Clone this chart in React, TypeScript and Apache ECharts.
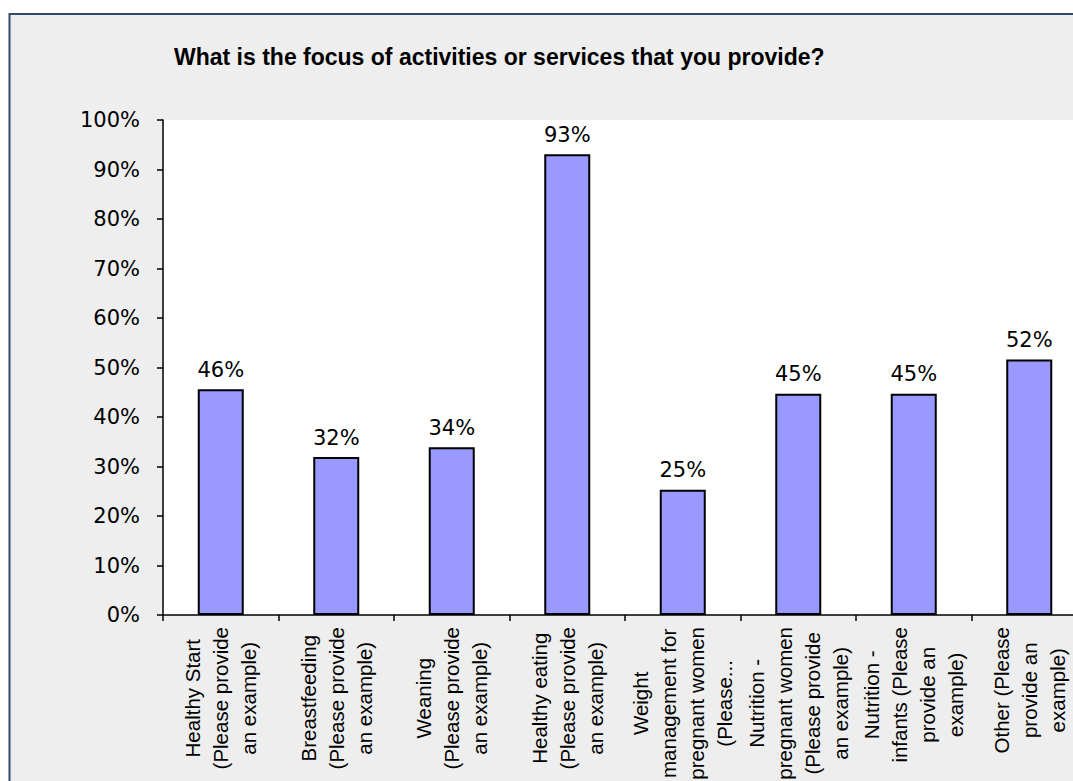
import { useEffect, useRef } from 'react';
import * as echarts from 'echarts';

const chartTitle = 'What is the focus of activities or services that you provide?';

const categories = [
  'Healthy Start\n(Please provide\nan example)',
  'Breastfeeding\n(Please provide\nan example)',
  'Weaning\n(Please provide\nan example)',
  'Healthy eating\n(Please provide\nan example)',
  'Weight\nmanagement for\npregnant women\n(Please...',
  'Nutrition -\npregnant women\n(Please provide\nan example)',
  'Nutrition -\ninfants (Please\nprovide an\nexample)',
  'Other (Please\nprovide an\nexample)',
];

const values = [45.6, 31.9, 33.9, 93.1, 25.3, 44.7, 44.7, 51.6];

const yMin = 0;
const yMax = 100;
const yStep = 10;

export default function App() {
  const ref = useRef<HTMLDivElement>(null);

  useEffect(() => {
    const chart = echarts.init(ref.current!, null, { renderer: 'svg' });
    chart.setOption({
      animation: false,
      backgroundColor: '#ffffff',
      title: {
        text: chartTitle,
        left: 169,
        top: 40,
        textStyle: {
          fontFamily: 'Liberation Sans, Arial, sans-serif',
          fontSize: 23,
          fontWeight: 'bold',
          color: '#000000',
        },
      },
      graphic: [
        {
          type: 'rect',
          z: -1,
          shape: { x: 9.5, y: 14, width: 1100, height: 800 },
          style: { fill: '#eeeeee', stroke: '#34466a', lineWidth: 2 },
        },
      ],
      grid: {
        show: true,
        outerBoundsMode: 'none',
        containLabel: false,
        left: 163,
        top: 120,
        width: 924,
        height: 495,
        backgroundColor: '#ffffff',
        borderWidth: 0,
      },
      xAxis: {
        type: 'category',
        data: categories,
        axisLine: { lineStyle: { color: '#000000', width: 1.5 } },
        axisTick: { show: true, alignWithLabel: false, length: 6, lineStyle: { color: '#000000', width: 1.5 } },
        axisLabel: {
          interval: 0,
          rotate: 90,
          margin: 12,
          formatter: (v: string) => v.split('\n').map((l) => `{c|${l}}`).join('\n'),
          rich: {
            c: {
              align: 'center',
              fontFamily: 'Liberation Sans, Arial, sans-serif',
              fontSize: 20.5,
              lineHeight: 28,
              color: '#000000',
            },
          },
        },
      },
      yAxis: {
        type: 'value',
        min: yMin,
        max: yMax,
        interval: yStep,
        splitLine: { show: false },
        axisLine: { show: true, lineStyle: { color: '#000000', width: 1.5 } },
        axisTick: { show: true, inside: false, length: 6, lineStyle: { color: '#000000', width: 1.5 } },
        axisLabel: {
          margin: 23,
          formatter: '{value}%',
          fontFamily: 'DejaVu Sans, sans-serif',
          fontSize: 21,
          color: '#000000',
        },
      },
      series: [
        {
          type: 'bar',
          data: values,
          barWidth: 46,
          itemStyle: { color: '#9999ff', borderColor: '#000000', borderWidth: 2 },
          label: {
            show: true,
            position: 'top',
            distance: 9,
            formatter: (p: any) => `${Math.round(p.value)}%`,
            fontFamily: 'DejaVu Sans, sans-serif',
            fontSize: 21,
            color: '#000000',
          },
        },
      ],
    });
    return () => chart.dispose();
  }, []);

  return (
    <div
      ref={ref}
      style={{ position: 'absolute', left: 0, top: 0, width: 1073, height: 781, overflow: 'hidden' }}
    />
  );
}
